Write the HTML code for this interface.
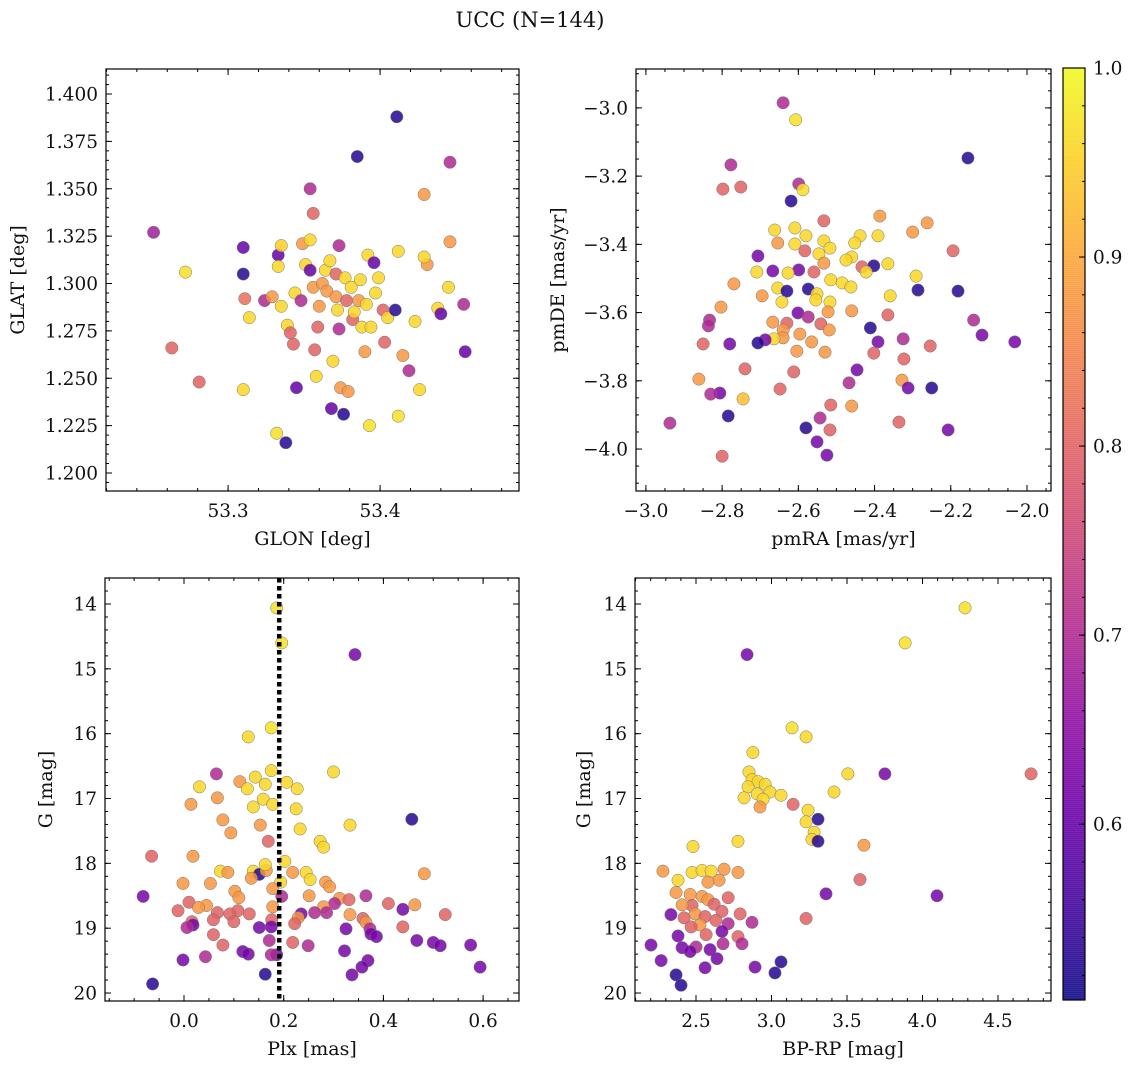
<!DOCTYPE html>
<html><head><meta charset="utf-8"><style>
body{margin:0;background:#fff;}
svg{display:block;font-family:"DejaVu Serif","Liberation Serif",serif;}
</style></head><body>
<svg id="fig" width="1136" height="1068" viewBox="0 0 1136 1068" xmlns="http://www.w3.org/2000/svg">
<text x="530" y="27" font-size="21" text-anchor="middle" fill="#111">UCC (N=144)</text>
</svg>
<script>
// Panel 1: GLON vs GLAT
const glon=[53.251,53.272,53.263,53.281,53.310,53.310,53.311,53.314,53.310,53.324,53.329,53.333,53.332,53.335,53.333,53.335,53.338,53.339,53.341,53.343,53.345,53.344,53.348,53.349,53.351,53.354,53.354,53.356,53.354,53.356,53.357,53.358,53.359,53.360,53.362,53.364,53.365,53.367,53.368,53.369,53.371,53.371,53.372,53.373,53.373,53.374,53.376,53.377,53.379,53.378,53.381,53.382,53.383,53.385,53.386,53.387,53.388,53.390,53.391,53.393,53.392,53.394,53.396,53.397,53.399,53.402,53.403,53.405,53.411,53.410,53.412,53.412,53.415,53.419,53.423,53.429,53.431,53.429,53.426,53.438,53.440,53.445,53.446,53.446,53.455,53.456];
const glat=[1.327,1.306,1.266,1.248,1.319,1.305,1.292,1.282,1.244,1.291,1.293,1.315,1.221,1.320,1.309,1.288,1.216,1.278,1.274,1.268,1.245,1.295,1.291,1.321,1.310,1.323,1.350,1.337,1.307,1.298,1.265,1.251,1.277,1.288,1.300,1.307,1.296,1.312,1.234,1.259,1.305,1.293,1.286,1.320,1.276,1.245,1.231,1.303,1.243,1.291,1.298,1.281,1.285,1.367,1.291,1.302,1.277,1.264,1.289,1.225,1.315,1.277,1.311,1.295,1.303,1.286,1.269,1.282,1.388,1.286,1.317,1.230,1.262,1.254,1.280,1.347,1.310,1.314,1.244,1.287,1.284,1.298,1.322,1.364,1.289,1.264];
const prob1=[.68,.97,.8,.8,.6,.53,.82,.96,.96,.7,.88,.6,.97,.95,.96,.96,.53,.96,.8,.8,.6,.96,.7,.88,.96,.96,.7,.8,.6,.88,.8,.96,.8,.88,.88,.96,.88,.96,.6,.96,.8,.88,.96,.7,.7,.88,.53,.96,.88,.8,.96,.8,.96,.53,.88,.96,.96,.88,.96,.97,.96,.96,.6,.96,.96,.8,.8,.96,.53,.53,.96,.97,.88,.7,.96,.88,.88,.96,.96,.96,.6,.96,.88,.7,.7,.6];
// Panel 2: pmRA vs pmDE
const pmra=[-2.640,-2.607,-2.155,-2.777,-2.599,-2.751,-2.798,-2.588,-2.619,-2.386,-2.533,-2.609,-2.262,-2.300,-2.662,-2.580,-2.438,-2.391,-2.533,-2.654,-2.609,-2.452,-2.517,-2.583,-2.194,-2.546,-2.706,-2.460,-2.475,-2.533,-2.365,-2.402,-2.433,-2.599,-2.667,-2.422,-2.559,-2.709,-2.627,-2.291,-2.515,-2.485,-2.769,-2.574,-2.462,-2.654,-2.630,-2.286,-2.181,-2.551,-2.695,-2.359,-2.643,-2.554,-2.517,-2.803,-2.601,-2.460,-2.522,-2.574,-2.365,-2.140,-2.833,-2.667,-2.630,-2.541,-2.836,-2.640,-2.411,-2.519,-2.596,-2.118,-2.640,-2.664,-2.687,-2.325,-2.391,-2.565,-2.780,-2.706,-2.850,-2.032,-2.254,-2.530,-2.402,-2.604,-2.323,-2.740,-2.446,-2.612,-2.861,-2.328,-2.467,-2.312,-2.250,-2.648,-2.806,-2.745,-2.830,-2.460,-2.515,-2.784,-2.543,-2.336,-2.937,-2.517,-2.580,-2.207,-2.551,-2.525,-2.800];
const pmde=[-2.985,-3.035,-3.147,-3.167,-3.223,-3.232,-3.238,-3.240,-3.273,-3.317,-3.331,-3.352,-3.337,-3.364,-3.358,-3.375,-3.375,-3.375,-3.390,-3.396,-3.399,-3.396,-3.411,-3.419,-3.419,-3.428,-3.434,-3.437,-3.446,-3.455,-3.457,-3.463,-3.466,-3.475,-3.478,-3.481,-3.481,-3.481,-3.484,-3.493,-3.504,-3.513,-3.516,-3.531,-3.525,-3.528,-3.537,-3.534,-3.537,-3.545,-3.551,-3.551,-3.569,-3.563,-3.569,-3.584,-3.601,-3.595,-3.598,-3.613,-3.607,-3.622,-3.622,-3.628,-3.631,-3.633,-3.639,-3.651,-3.645,-3.651,-3.663,-3.666,-3.674,-3.677,-3.680,-3.677,-3.686,-3.686,-3.692,-3.689,-3.692,-3.686,-3.698,-3.716,-3.719,-3.713,-3.736,-3.765,-3.768,-3.774,-3.795,-3.798,-3.806,-3.821,-3.821,-3.824,-3.836,-3.853,-3.839,-3.874,-3.871,-3.903,-3.909,-3.921,-3.924,-3.944,-3.938,-3.944,-3.979,-4.018,-4.021];
const prob2=[.7,.97,.53,.7,.7,.8,.8,.97,.53,.88,.8,.96,.88,.88,.96,.96,.96,.96,.96,.88,.96,.96,.96,.8,.8,.96,.62,.96,.96,.88,.96,.53,.8,.62,.62,.96,.8,.96,.96,.96,.96,.96,.88,.53,.96,.96,.53,.53,.53,.96,.88,.96,.96,.96,.96,.88,.62,.88,.88,.7,.8,.7,.7,.88,.8,.8,.7,.88,.53,.88,.88,.62,.88,.96,.62,.7,.62,.88,.62,.53,.8,.62,.8,.88,.8,.88,.8,.8,.62,.8,.88,.88,.7,.62,.53,.8,.62,.93,.7,.88,.8,.53,.7,.8,.7,.8,.53,.62,.62,.62,.8];
// Panel 3: Plx vs G
const plx=[0.186,0.196,0.343,0.175,0.129,0.065,0.300,0.206,0.031,0.112,0.143,0.163,0.175,0.127,0.159,0.227,0.067,0.014,0.139,0.178,0.225,0.457,0.078,0.333,0.153,0.233,0.094,0.273,0.169,0.280,0.018,-0.065,0.202,0.073,0.139,0.088,0.151,0.245,0.165,0.218,0.163,0.482,-0.002,0.053,0.194,0.135,0.284,0.253,0.292,0.178,0.102,-0.082,0.365,0.251,0.110,0.196,0.312,0.331,0.410,0.010,0.302,0.463,0.178,0.045,0.280,0.029,-0.012,0.108,0.262,0.333,0.092,0.439,0.235,0.067,0.131,0.286,0.524,0.176,0.229,0.359,0.059,0.016,0.365,0.018,0.006,0.439,0.100,0.222,0.151,0.175,0.373,0.325,0.375,0.059,0.386,0.467,0.078,0.218,0.249,0.171,0.500,0.514,0.118,0.129,0.043,0.186,0.322,0.575,-0.002,0.369,0.357,0.594,0.163,0.337,-0.063,0.175];
const gmag3=[14.06,14.60,14.78,15.91,16.05,16.62,16.59,16.75,16.82,16.74,16.67,16.78,16.57,16.85,17.01,16.85,16.99,17.09,17.13,17.09,17.16,17.32,17.33,17.41,17.41,17.47,17.53,17.66,17.66,17.75,17.89,17.89,17.97,18.12,18.12,18.14,18.17,18.14,18.11,18.14,18.02,18.16,18.31,18.31,18.29,18.23,18.29,18.25,18.36,18.39,18.43,18.51,18.50,18.50,18.53,18.51,18.54,18.56,18.62,18.60,18.62,18.64,18.67,18.65,18.67,18.68,18.73,18.73,18.76,18.79,18.78,18.71,18.78,18.76,18.78,18.76,18.79,18.87,18.84,18.85,18.87,18.90,18.91,18.95,18.99,18.98,18.90,18.93,18.99,18.98,19.01,19.01,19.09,19.10,19.13,19.19,19.26,19.22,19.27,19.19,19.22,19.27,19.36,19.40,19.44,19.41,19.35,19.26,19.49,19.50,19.60,19.60,19.71,19.72,19.86,19.41];
const prob3=[.97,.97,.62,.97,.96,.7,.96,.96,.96,.88,.96,.96,.96,.96,.96,.96,.88,.88,.96,.96,.96,.53,.88,.96,.88,.96,.88,.96,.8,.96,.88,.8,.96,.96,.96,.88,.53,.96,.88,.88,.96,.88,.88,.88,.96,.88,.88,.96,.88,.88,.88,.62,.7,.88,.88,.7,.88,.8,.8,.8,.7,.88,.88,.88,.88,.88,.8,.8,.7,.88,.8,.62,.62,.8,.8,.7,.8,.8,.88,.8,.8,.8,.88,.62,.7,.8,.8,.8,.62,.62,.7,.62,.62,.8,.62,.62,.8,.8,.7,.7,.62,.62,.62,.62,.7,.62,.62,.62,.62,.62,.62,.62,.53,.62,.53,.7];
// Panel 4: BP-RP vs G
const bprp=[4.282,3.885,2.838,3.136,3.229,2.877,4.719,3.751,3.506,2.851,2.871,2.911,2.958,2.845,2.990,3.063,2.905,2.944,2.818,3.414,3.143,2.924,3.242,3.308,3.229,3.282,3.268,3.308,2.778,3.612,2.281,2.480,2.474,2.540,2.600,2.686,2.778,2.653,2.579,2.381,3.586,3.361,2.368,2.461,2.540,2.579,2.713,2.620,2.474,2.408,2.672,2.494,2.560,2.421,2.334,2.632,2.792,2.713,2.526,2.468,3.229,2.871,4.096,2.672,2.567,2.778,2.381,2.805,2.679,2.202,2.500,2.593,2.408,2.461,2.269,3.063,2.639,2.560,2.891,2.368,3.023,2.401];
const gmag4=[14.06,14.60,14.78,15.91,16.05,16.29,16.62,16.62,16.62,16.59,16.71,16.74,16.78,16.82,16.90,16.95,16.93,17.01,16.99,16.90,17.09,17.13,17.18,17.32,17.36,17.52,17.63,17.66,17.66,17.72,18.12,17.74,18.14,18.11,18.12,18.09,18.14,18.26,18.29,18.26,18.25,18.47,18.45,18.48,18.51,18.56,18.53,18.63,18.65,18.64,18.74,18.78,18.82,18.84,18.79,18.88,18.78,18.93,18.95,18.98,18.85,18.91,18.50,19.05,19.10,19.13,19.12,19.24,19.24,19.26,19.29,19.33,19.30,19.36,19.50,19.52,19.47,19.61,19.60,19.72,19.69,19.88];
const prob4=[.97,.97,.62,.97,.96,.96,.8,.62,.96,.96,.96,.96,.96,.96,.96,.96,.96,.96,.96,.96,.8,.88,.96,.53,.96,.96,.96,.53,.96,.88,.88,.96,.96,.96,.96,.88,.88,.88,.88,.96,.8,.62,.88,.88,.88,.88,.8,.8,.8,.88,.8,.88,.8,.8,.62,.8,.8,.7,.88,.8,.8,.7,.62,.62,.8,.8,.62,.7,.7,.62,.7,.62,.62,.62,.62,.53,.62,.62,.62,.53,.53,.53];
const plxLine=[0.191];

const NS="http://www.w3.org/2000/svg";
const svg=document.getElementById('fig');
const VMIN=0.507,VMAX=1.0;
const TFS=18.5, LFS=19;
const stops=["#0d0887","#41049d","#6a00a8","#8f0da4","#b12a90","#cc4778","#e16462","#f2844b","#fca636","#fcce25","#f0f921"];
function hex(h){return [1,3,5].map(i=>parseInt(h.substr(i,2),16));}
function plasma(t){t=Math.max(0,Math.min(1,t));const f=t*10,i=Math.min(9,Math.floor(f)),r=f-i;const a=hex(stops[i]),b=hex(stops[i+1]);return 'rgb('+a.map((v,k)=>Math.round(v+(b[k]-v)*r)).join(',')+')';}
function col(p){return plasma((p-VMIN)/(VMAX-VMIN));}
function el(tag,attrs,parent){const e=document.createElementNS(NS,tag);for(const k in attrs)e.setAttribute(k,attrs[k]);(parent||svg).appendChild(e);return e;}
function fmt(v,d){return (v<0?'\u2212':'')+Math.abs(v).toFixed(d);}

function panel(o){
  const g=el('g',{});
  
  
  const sx=v=>o.x0+(v-o.xd[0])/(o.xd[1]-o.xd[0])*(o.x1-o.x0);
  const sy=v=>o.y0+(v-o.yd[0])/(o.yd[1]-o.yd[0])*(o.y1-o.y0);
  const pg=el('g',{},g);
  
  
  for(let i=0;i<o.xs.length;i++){
    const c=el('circle',{cx:sx(o.xs[i]),cy:sy(o.ys[i]),r:6.2,fill:col(o.ps[i]),'fill-opacity':0.85,stroke:'#777','stroke-width':0.5},pg);
    
    
  }
  if(o.extra)o.extra(g,sx,sy);
  const tg=el('g',{stroke:'#000','stroke-width':1},g);
  const eps=1e-9;
  function ticks(dom,step,cb){const lo=Math.min(dom[0],dom[1]),hi=Math.max(dom[0],dom[1]);for(let v=Math.ceil(lo/step-eps)*step;v<=hi+eps;v+=step)cb(Math.round(v/step)*step);}
  ticks(o.xd,o.xminor,v=>{const x=sx(v);el('line',{x1:x,x2:x,y1:o.y1,y2:o.y1-3},tg);el('line',{x1:x,x2:x,y1:o.y0,y2:o.y0+3},tg);});
  ticks(o.yd,o.yminor,v=>{const y=sy(v);el('line',{x1:o.x0,x2:o.x0+3,y1:y,y2:y},tg);el('line',{x1:o.x1,x2:o.x1-3,y1:y,y2:y},tg);});
  ticks(o.xd,o.xmajor,v=>{const x=sx(v);el('line',{x1:x,x2:x,y1:o.y1,y2:o.y1-6},tg);el('line',{x1:x,x2:x,y1:o.y0,y2:o.y0+6},tg);
    const t=el('text',{x:x,y:o.y1+26,'font-size':TFS,'text-anchor':'middle',fill:'#111'},g);t.textContent=fmt(v,o.xdec);
    });
  ticks(o.yd,o.ymajor,v=>{const y=sy(v);el('line',{x1:o.x0,x2:o.x0+6,y1:y,y2:y},tg);el('line',{x1:o.x1,x2:o.x1-6,y1:y,y2:y},tg);
    const t=el('text',{x:o.x0-8,y:y+6.5,'font-size':TFS,'text-anchor':'end',fill:'#111'},g);t.textContent=fmt(v,o.ydec);
    });
  const fr=el('rect',{x:o.x0,y:o.y0,width:o.x1-o.x0,height:o.y1-o.y0,fill:'none',stroke:'#000','stroke-width':1.2},g);
  
  const xl=el('text',{x:(o.x0+o.x1)/2,y:o.y1+54,'font-size':LFS,'text-anchor':'middle',fill:'#111'},g);xl.textContent=o.xlabel;
  
  const yx=o.ylx,yy=(o.y0+o.y1)/2;
  const yl=el('text',{x:yx,y:yy,'font-size':LFS,'text-anchor':'middle',fill:'#111',transform:`rotate(-90 ${yx} ${yy})`},g);yl.textContent=o.ylabel;
  
}

panel({name:'glon-glat-panel',x0:106,x1:519,y0:69,y1:491,xd:[53.2197,53.4914],yd:[1.4132,1.1905],xs:glon,ys:glat,ps:prob1,
  xmajor:0.1,xminor:0.02,ymajor:0.025,yminor:0.005,xdec:1,ydec:3,xlabel:'GLON [deg]',ylabel:'GLAT [deg]',ylx:24});
panel({name:'pm-panel',x0:636,x1:1051,y0:69,y1:491,xd:[-3.026,-1.937],yd:[-2.886,-4.123],xs:pmra,ys:pmde,ps:prob2,
  xmajor:0.2,xminor:0.05,ymajor:0.2,yminor:0.05,xdec:1,ydec:1,xlabel:'pmRA [mas/yr]',ylabel:'pmDE [mas/yr]',ylx:564});
panel({name:'plx-g-panel',x0:105,x1:519,y0:578,y1:1001,xd:[-0.1585,0.672],yd:[13.599,20.123],xs:plx,ys:gmag3,ps:prob3,
  xmajor:0.2,xminor:0.05,ymajor:1,yminor:0.2,xdec:1,ydec:0,xlabel:'Plx [mas]',ylabel:'G [mag]',ylx:52,
  extra:(g,sx,sy)=>{for(const v of plxLine){const l=el('line',{x1:sx(v),x2:sx(v),y1:578,y2:1001,stroke:'#000','stroke-width':4.5,'stroke-dasharray':'4.5 3.5'},g);
    }}});
panel({name:'cmd-panel',x0:635,x1:1051,y0:578,y1:1001,xd:[2.096,4.851],yd:[13.599,20.123],xs:bprp,ys:gmag4,ps:prob4,
  xmajor:0.5,xminor:0.1,ymajor:1,yminor:0.2,xdec:1,ydec:0,xlabel:'BP-RP [mag]',ylabel:'G [mag]',ylx:590});

const cb=el('g',{});


const cbTicks=[0.6,0.7,0.8,0.9,1.0];
const cy0=68,cy1=1000,cx0=1063,cx1=1085;
const cys=v=>cy1-(v-VMIN)/(VMAX-VMIN)*(cy1-cy0);
for(let y=cy0;y<cy1;y+=2){const v=VMIN+(cy1-y)/(cy1-cy0)*(VMAX-VMIN);el('rect',{x:cx0,y:y,width:cx1-cx0,height:2.5,fill:col(v),'fill-opacity':0.85},cb);}
el('rect',{x:cx0,y:cy0,width:cx1-cx0,height:cy1-cy0,fill:'none',stroke:'#000','stroke-width':1.2},cb);
for(let v=0.52;v<=1.0001;v+=0.02){const y=cys(v);el('line',{x1:cx1,x2:cx1-3,y1:y,y2:y,stroke:'#000'},cb);}
for(const v of cbTicks){const y=cys(v);el('line',{x1:cx1,x2:cx1-6,y1:y,y2:y,stroke:'#000'},cb);
  const t=el('text',{x:cx1+8,y:y+6.5,'font-size':TFS,fill:'#111'},cb);t.textContent=v.toFixed(1);
  }
</script>
</body></html>
